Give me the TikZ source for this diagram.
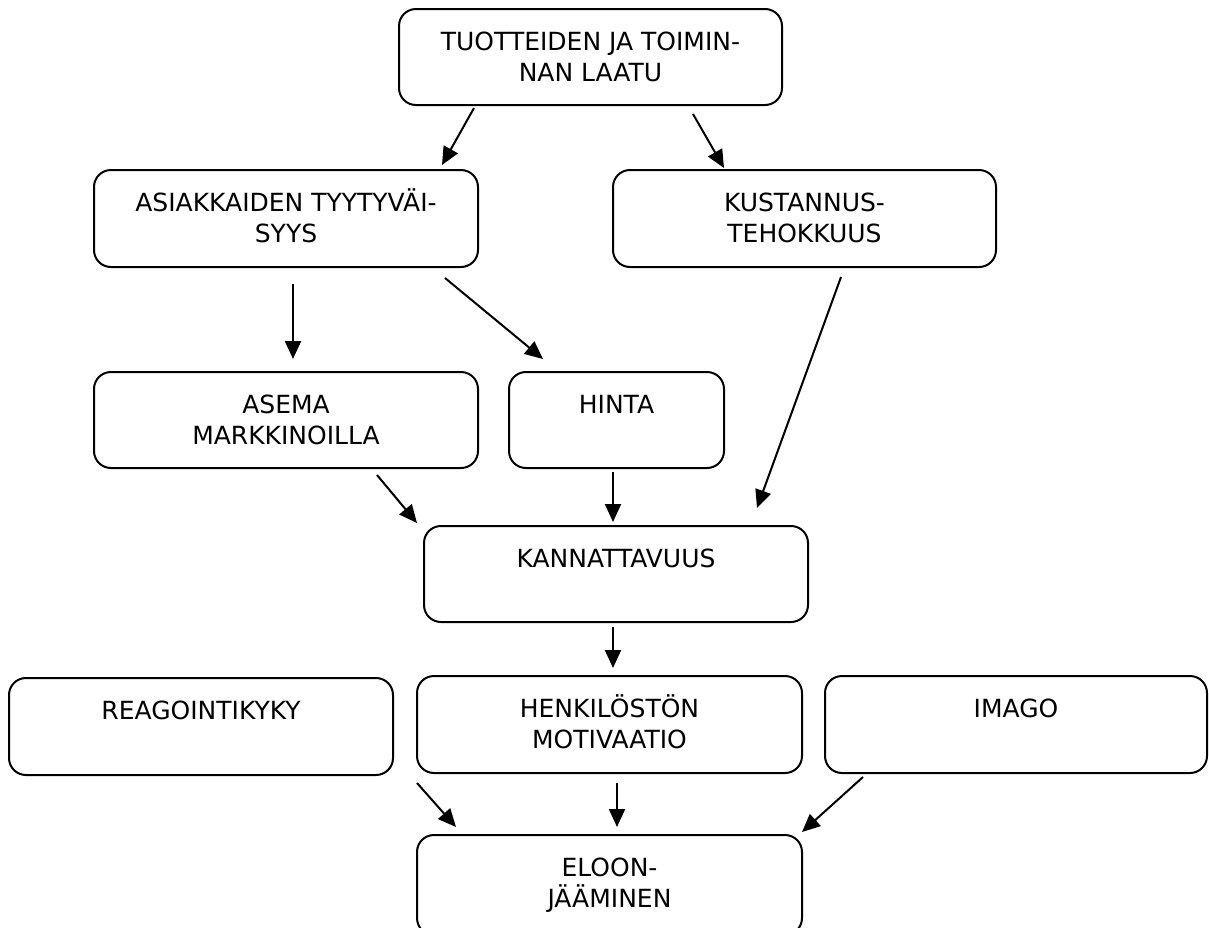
\documentclass[tikz,border=0pt]{standalone}
\usepackage{fontspec}
\setmainfont{DejaVu Sans}
\usetikzlibrary{arrows.meta,calc}
\tikzset{
  box/.style={draw, line width=2pt, rounded corners=17pt, inner sep=0pt, outer sep=0pt, anchor=north west},
  txt/.style={anchor=north, inner sep=0pt, align=center, font=\fontsize{25}{31}\selectfont},
  arr/.style={line width=2pt, -{Triangle[length=18pt,width=16pt]}}
}
\newcommand{\fl}{\rule{0pt}{24pt}}
\begin{document}
\begin{tikzpicture}[x=1pt,y=-1pt]
\useasboundingbox (0,0) rectangle (1209,927);
\clip (0,0) rectangle (1209,927);
% boxes
\node[box, minimum width=383pt, minimum height=96pt] (b1) at (399,9) {};
\node[box, minimum width=384pt, minimum height=97pt] (b2) at (94,170) {};
\node[box, minimum width=383pt, minimum height=97pt] (b3) at (613,170) {};
\node[box, minimum width=384pt, minimum height=96pt] (b4) at (94,372) {};
\node[box, minimum width=215pt, minimum height=96pt] (b5) at (509,372) {};
\node[box, minimum width=384pt, minimum height=96pt] (b6) at (424,526) {};
\node[box, minimum width=384pt, minimum height=97pt] (b7) at (9,678) {};
\node[box, minimum width=385pt, minimum height=97pt] (b8) at (417,676) {};
\node[box, minimum width=382pt, minimum height=97pt] (b9) at (825,676) {};
\node[box, minimum width=385pt, minimum height=100pt] (b10) at (417,835) {};
% texts
\node[txt] (t1) at ([yshift=-17pt]b1.north) {\fl TUOTTEIDEN JA TOIMIN-\\NAN LAATU};
\node[txt] (t2) at ([yshift=-17pt]b2.north) {\fl ASIAKKAIDEN TYYTYVÄI-\\SYYS};
\node[txt] (t3) at ([yshift=-17pt]b3.north) {\fl KUSTANNUS-\\TEHOKKUUS};
\node[txt] (t4) at ([yshift=-17pt]b4.north) {\fl ASEMA\\MARKKINOILLA};
\node[txt] (t5) at ([yshift=-17pt]b5.north) {\fl HINTA};
\node[txt] (t6) at ([yshift=-17pt]b6.north) {\fl KANNATTAVUUS};
\node[txt] (t7) at ([yshift=-17pt]b7.north) {\fl REAGOINTIKYKY};
\node[txt] (t8) at ([yshift=-17pt]b8.north) {\fl HENKILÖSTÖN\\MOTIVAATIO};
\node[txt] (t9) at ([yshift=-17pt]b9.north) {\fl IMAGO};
\node[txt] (t10) at ([yshift=-17pt]b10.north) {\fl ELOON-\\JÄÄMINEN};
% arrow end points
\coordinate (a1s) at (474,108);  \coordinate (a1e) at (442,165);
\coordinate (a2s) at (693,114);  \coordinate (a2e) at (724,168);
\coordinate (a3s) at (293,284);  \coordinate (a3e) at (293,359);
\coordinate (a4s) at (445,278);  \coordinate (a4e) at (543,359);
\coordinate (a5s) at (841,277);  \coordinate (a5e) at (757,508);
\coordinate (a6s) at (377,475);  \coordinate (a6e) at (417,523);
\coordinate (a7s) at (613,472);  \coordinate (a7e) at (613,522);
\coordinate (a8s) at (613,627);  \coordinate (a8e) at (613,668);
\coordinate (a9s) at (417,783);  \coordinate (a9e) at (456,827);
\coordinate (a10s) at (617,783); \coordinate (a10e) at (617,827);
\coordinate (a11s) at (863,777); \coordinate (a11e) at (802,832);
\foreach \i in {1,...,11} {\draw[arr] (a\i s) -- (a\i e);}
\end{tikzpicture}
\end{document}
